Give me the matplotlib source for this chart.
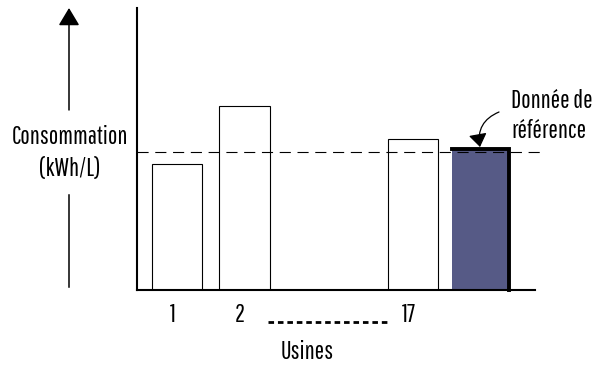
import matplotlib.pyplot as plt
import matplotlib.transforms as mtransforms

# data
usines = ["1", "2", "17", ""]
consommation = [44.7, 65.2, 53.5, 50.0]
reference = 48.9
positions = [0, 1, 3.52, 4.53]
widths = [0.75, 0.76, 0.75, 0.85]

plt.rcParams['font.family'] = ['Pathway Gothic One', 'DejaVu Sans']
FS = 18

fig = plt.figure(figsize=(6.05, 3.66), dpi=100)
ax = fig.add_axes([137/605, 76/366, 398/605, 282/366])

for i in range(3):
    ax.bar(positions[i], consommation[i], width=widths[i], facecolor="white",
           edgecolor="black", linewidth=0.8)
# reference bar, thick top and right edge
ax.bar(positions[3], consommation[3], width=widths[3], facecolor="#565a86",
       edgecolor="none")
l = positions[3] - widths[3]/2
r = positions[3] + widths[3]/2
ax.plot([l, r, r], [consommation[3], consommation[3], 0], color="black",
        lw=2.8, solid_joinstyle="miter", clip_on=False)

ax.axhline(reference, xmin=0, xmax=1.015, color="black", lw=0.8,
           linestyle=(0, (10, 6)), clip_on=False, zorder=3)

ax.set_xlim(-0.6, 5.34)
ax.set_ylim(0, 100)
for s in ["top", "right"]:
    ax.spines[s].set_visible(False)
ax.spines["left"].set_linewidth(1.5)
ax.spines["bottom"].set_linewidth(1.5)
ax.set_yticks([])
ax.set_xticks(positions)
ax.set_xticklabels(usines, fontsize=FS)
ax.tick_params(axis="x", length=0, pad=9)
# labels sit a little left of the bar centres
shift = mtransforms.ScaledTranslation(-4/100, 0, fig.dpi_scale_trans)
for lab in ax.get_xticklabels():
    lab.set_transform(lab.get_transform() + shift)

# dotted gap between 2 and 17
ax.plot([1.35, 3.15], [-0.113, -0.113], color="black", lw=2,
        linestyle=(0, (2.0, 1.4)), transform=ax.get_xaxis_transform(),
        clip_on=False)

fig.text(307/605, 1 - 359/366, "Usines", ha="center", va="baseline", fontsize=FS)

# y axis arrow with label
ax.annotate("", xy=(69, 358), xytext=(69, 256), xycoords="figure pixels",
            textcoords="figure pixels",
            arrowprops=dict(arrowstyle="-|>,head_length=0.4,head_width=0.24",
                            mutation_scale=27, color="black", lw=1.1,
                            shrinkA=0, shrinkB=0))
ax.plot([69, 69], [79, 171], color="black", lw=1.1,
        transform=None, clip_on=False)
fig.text(70/605, 1 - 153/366, "Consommation\n(kWh/L)", ha="center",
         va="center", fontsize=FS, linespacing=1.4)

fig.text(511/605, 1 - 116/366, "Donnée de\nréférence", ha="left",
         va="center", fontsize=FS, linespacing=1.35)
ax.annotate("", xy=(480, 219), xytext=(499, 254), xycoords="figure pixels",
            textcoords="figure pixels",
            arrowprops=dict(arrowstyle="-|>,head_length=0.5,head_width=0.35",
                            mutation_scale=16, color="black", lw=0.9,
                            shrinkA=0, shrinkB=0,
                            connectionstyle="arc3,rad=0.4"))

fig.savefig("out.png", dpi=100)
